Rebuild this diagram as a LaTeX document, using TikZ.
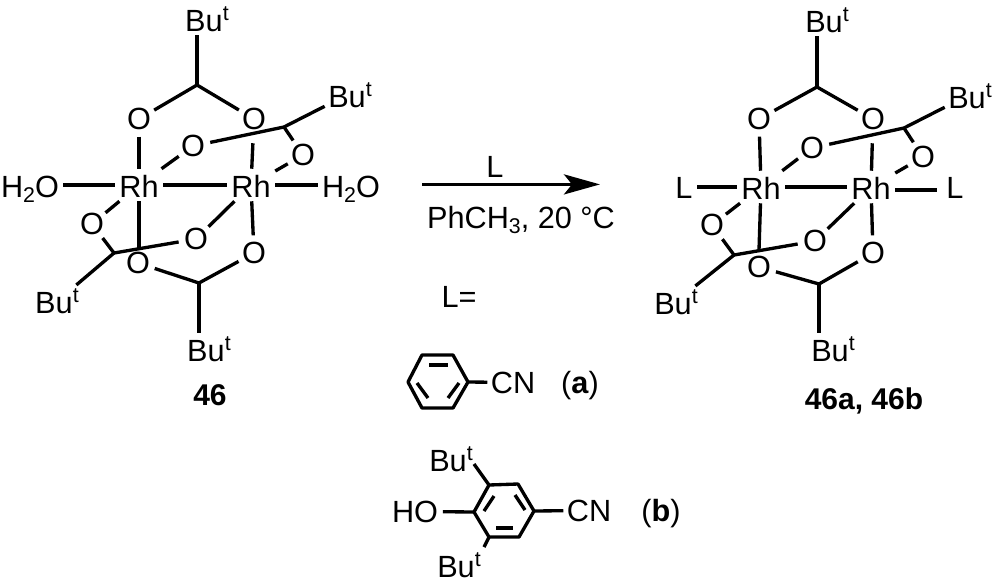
\documentclass[tikz,border=0pt]{standalone}
\usepackage{fontspec}
\setmainfont{Liberation Sans}
\usetikzlibrary{arrows.meta, calc}
\newcommand{\BuT}{Bu\rlap{\raisebox{8pt}{\fontsize{16}{16}\selectfont t}}}
\newcommand{\lowsub}[1]{\raisebox{-3.75pt}{\fontsize{16}{16}\selectfont #1}}

\begin{document}
\begin{tikzpicture}[
  x=0.75pt, y=-0.75pt,
  bond/.style={line width=2.5pt},
  oxy/.style={circle, minimum size=26pt, inner sep=0pt, font=\fontsize{23}{27}\selectfont},
  atom/.style={anchor=base, inner sep=2.5pt, font=\fontsize{23}{27}\selectfont},
  rhod/.style={anchor=base, inner xsep=3.3pt, inner ysep=3pt, text height=18pt, text depth=0pt, font=\fontsize{23}{27}\selectfont},
  tag/.style={anchor=base, inner sep=0pt, font=\fontsize{22.5}{27}\selectfont\bfseries},
  reaction/.style={-{Stealth[length=27pt, width=15pt, inset=6pt]}, line width=2.5pt}
]
  \useasboundingbox (0,0) rectangle (994,586);

  % Left complex
  \node[rhod] (rhA) at (139,197) {Rh};
  \node[rhod] (rhB) at (251,197) {Rh};
  \node[atom] (waterL) at (30,197) {H\lowsub{2}O};
  \node[atom] (waterR) at (351,197) {H\lowsub{2}O};
  \node[oxy] (oa) at (139,119) {O};
  \node[oxy] (ob) at (254,119) {O};
  \node[oxy] (oc) at (193,146) {O};
  \node[oxy] (od) at (303,155) {O};
  \node[oxy] (oe) at (92,224) {O};
  \node[oxy] (of) at (196,239) {O};
  \node[oxy] (og) at (138,263) {O};
  \node[oxy] (oh) at (254,253) {O};
  \coordinate (cTop) at (197,85);
  \coordinate (cRight) at (284,127);
  \coordinate (cLeft) at (114,253);
  \coordinate (cBot) at (199,283);
  \coordinate (crossA) at (139,249);
  \node[atom] (buTop) at (204,31) {\BuT};
  \node[atom] (buRight) at (347,107) {\BuT};
  \node[atom] (buLeft) at (54,313) {\BuT};
  \node[atom] (buBot) at (206,361) {\BuT};
  \node[tag] (labelA) at (210,405) {46};

  \draw[bond] (cTop) -- (cTop |- buTop.south);
  \draw[bond] (cTop) -- (oa);
  \draw[bond] (cTop) -- (ob);
  \draw[bond] (oa) -- (rhA);
  \draw[bond] (oc) -- (rhA);
  \draw[bond, shorten <=5pt] (ob) -- (rhB);
  \draw[bond] (cRight) -- (oc);
  \draw[bond] (cRight) -- (od);
  \draw[bond] (cRight) -- (buRight);
  \draw[bond] (od) -- (rhB);
  \draw[bond] (rhA) -- (rhB);
  \draw[bond] (rhA) -- (rhA -| waterL.east);
  \draw[bond] (rhB) -- (rhB -| waterR.west);
  \draw[bond] (oe) -- (rhA);
  \draw[bond] (rhA) -- (crossA);
  \draw[bond] (cLeft) -- (of);
  \draw[bond] (cLeft) -- (oe);
  \draw[bond] (cLeft) -- (buLeft.north east);
  \draw[bond] (of) -- (rhB);
  \draw[bond] (oh) -- (rhB);
  \draw[bond] (cBot) -- (og);
  \draw[bond] (cBot) -- (oh);
  \draw[bond] (cBot) -- (cBot |- buBot.north);

  % Reaction arrow
  \coordinate (arrowFrom) at (422,184.4);
  \coordinate (arrowTo) at (600,184.4);
  \draw[reaction] (arrowFrom) -- (arrowTo);
  \node[atom] (reagent) at (495,177) {L};
  \node[atom] (solvent) at (521,228) {PhCH\lowsub{3}, 20 °C};
  \node[atom] (lequals) at (459,307) {L=};

  % Right complex
  \node[rhod] (rhC) at (761,199) {Rh};
  \node[rhod] (rhD) at (871,199) {Rh};
  \node[atom, inner xsep=3pt] (ligL) at (684,198) {L};
  \node[atom, inner xsep=7pt] (ligR) at (955,198) {L};
  \node[oxy] (pa) at (759,119) {O};
  \node[oxy] (pb) at (873,119) {O};
  \node[oxy] (pc) at (812,148) {O};
  \node[oxy] (pd) at (923,157) {O};
  \node[oxy] (pe) at (712,225) {O};
  \node[oxy] (pf) at (815,241) {O};
  \node[oxy] (pg) at (759,267) {O};
  \node[oxy] (ph) at (873,253) {O};
  \coordinate (dTop) at (817,87);
  \coordinate (dRight) at (904,128);
  \coordinate (dLeft) at (734,255);
  \coordinate (dBot) at (819,284);
  \coordinate (crossC) at (759,250);
  \node[atom] (buTopR) at (824,32) {\BuT};
  \node[atom] (buRightR) at (967,108) {\BuT};
  \node[atom] (buLeftR) at (673,314) {\BuT};
  \node[atom] (buBotR) at (830,361) {\BuT};
  \node[tag] (labelB) at (864,409) {46a, 46b};

  \draw[bond] (dTop) -- (dTop |- buTopR.south);
  \draw[bond] (dTop) -- (pa);
  \draw[bond] (dTop) -- (pb);
  \draw[bond] (pa) -- (rhC);
  \draw[bond] (pc) -- (rhC);
  \draw[bond, shorten <=5pt] (pb) -- (rhD);
  \draw[bond] (dRight) -- (pc);
  \draw[bond] (dRight) -- (pd);
  \draw[bond] (dRight) -- (buRightR);
  \draw[bond] (pd) -- (rhD);
  \draw[bond] (rhC) -- (rhD);
  \draw[bond] (rhC) -- (rhC -| ligL.east);
  \draw[bond] ([yshift=-2.25pt]rhD.east) -- ([yshift=-2.25pt]rhD.east -| ligR.west);
  \draw[bond] (pe) -- (rhC);
  \draw[bond] (rhC) -- (crossC);
  \draw[bond] (dLeft) -- (pf);
  \draw[bond] (dLeft) -- (pe);
  \draw[bond] (dLeft) -- (buLeftR.north east);
  \draw[bond] (pf) -- (rhD);
  \draw[bond] (ph) -- (rhD);
  \draw[bond] (dBot) -- (pg);
  \draw[bond] (dBot) -- (ph);
  \draw[bond] (dBot) -- (dBot |- buBotR.north);

  % Benzonitrile
  \coordinate (ra) at (422,355);
  \coordinate (rb) at (453,355);
  \coordinate (rc) at (468,382);
  \coordinate (rd) at (453,408);
  \coordinate (re) at (422,408);
  \coordinate (rf) at (408,382);
  \node[atom] (cnA) at (513,393) {CN};
  \node[atom] (markA) at (580,393) {(\textbf{a})};
  \draw[bond, line join=round] (ra) -- (rb) -- (rc) -- (rd) -- (re) -- (rf) -- cycle;
  \draw[bond] (429,365) -- (448,365);
  \draw[bond] (417,383) -- (428,398);
  \draw[bond] (448,398) -- (459,383);
  \draw[bond] (rc) -- (cnA);

  % Substituted benzonitrile
  \coordinate (sa) at (489,485);
  \coordinate (sb) at (518,484);
  \coordinate (sc) at (534,511);
  \coordinate (sd) at (519,537);
  \coordinate (se) at (489,537);
  \coordinate (sf) at (474,512);
  \coordinate (endTop) at (474,464);
  \coordinate (endBot) at (484,547);
  \node[atom] (buTopS) at (448,471) {\BuT};
  \node[atom] (buBotS) at (456,577) {\BuT};
  \node[atom, inner xsep=3.5pt] (hydroxy) at (415,522) {HO};
  \node[atom] (cnB) at (589,521) {CN};
  \node[atom] (markB) at (661,521) {(\textbf{b})};
  \draw[bond, line join=round] (sa) -- (sb) -- (sc) -- (sd) -- (se) -- (sf) -- cycle;
  \draw[bond] (494,496) -- (484,511);
  \draw[bond] (515,495) -- (525,510);
  \draw[bond] (496,528) -- (513,528);
  \draw[bond] (sa) -- (endTop);
  \draw[bond] (se) -- (endBot);
  \draw[bond] (sf) -- (hydroxy);
  \draw[bond] (sc) -- (cnB);
\end{tikzpicture}
\end{document}
